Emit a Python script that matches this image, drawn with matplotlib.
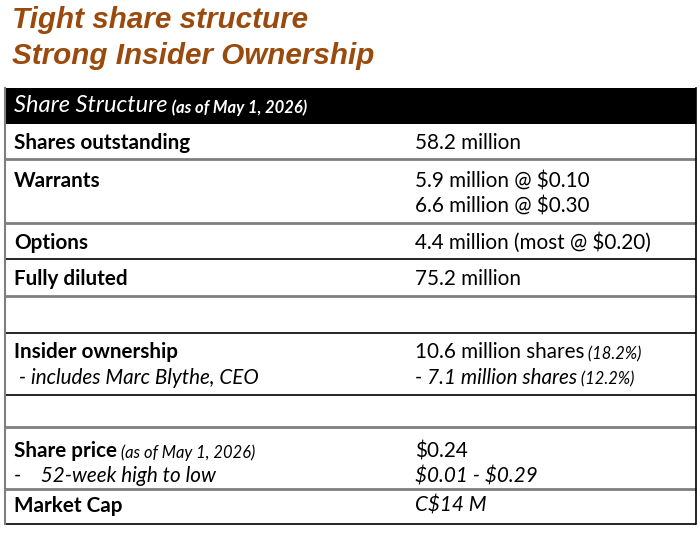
import matplotlib.pyplot as plt

# Data
title_lines = ["Tight share structure", "Strong Insider Ownership"]
header_main = "Share Structure"
header_note = " (as of May 1, 2026)"

row_labels = ["Shares outstanding", "Warrants", "Options", "Fully diluted", "",
              "Insider ownership", "", "Share price", "Market Cap"]
label_notes = ["", "", "", "", "", "", "", " (as of May 1, 2026)", ""]
label_second = ["", "", "", "", "", " - includes Marc Blythe, CEO", "",
                "-    52-week high to low", ""]

value_first = ["58.2 million", "5.9 million @ $0.10", "4.4 million (most @ $0.20)",
               "75.2 million", "", "10.6 million shares", "", "$0.24", "C$14 M"]
value_first_note = ["", "", "", "", "", " (18.2%)", "", "", ""]
value_first_italic = [False, False, False, False, False, False, False, False, True]
value_second = ["", "6.6 million @ $0.30", "", "", "", "- 7.1 million shares", "",
                "$0.01 - $0.29", ""]
value_second_note = ["", "", "", "", "", " (12.2%)", "", "", ""]
value_second_italic = [False, False, False, False, False, True, False, True, False]

# Layout (pixels)
W, H = 700, 533
band_top = 88
row_edges = [124, 159, 223, 259, 296, 333, 395, 427, 489, 524]
baselines = [149, 187, 249, 285, None, 358, None, 457, 512]
edge_gray = [True, True, False, True, False, False, True, True, False]
x_left, x_right = 5, 696
x_col1, x_col2 = 14, 415
line_gap = 25.5

FONT = "Lato"
fs = 14.9
title_color = "#9A4A0C"

fig = plt.figure(figsize=(W / 100, H / 100), dpi=100)
ax = fig.add_axes([0, 0, 1, 1])
ax.set_xlim(0, W)
ax.set_ylim(H, 0)
ax.axis("off")

# Title
for i, t in enumerate(title_lines):
    ax.text(12, 28 + i * 36, t, fontsize=21.3, fontweight="bold", fontstyle="italic",
            family="Liberation Sans", color=title_color, va="baseline", ha="left")

# Header band
ax.fill_between([x_left, x_right], band_top, row_edges[0], color="black", lw=0)
t = ax.text(x_col1, 112, header_main, fontsize=17, fontstyle="italic", family=FONT,
            color="white", va="baseline", ha="left")
ax.annotate(header_note, xy=(1, 0), xycoords=t, fontsize=12, fontstyle="italic",
            fontweight="bold", family=FONT, color="white", va="bottom", ha="left")


def put(x, y, s, note="", bold=False, italic=False):
    if not s:
        return
    txt = ax.text(x, y, s, fontsize=fs, family=FONT, va="baseline", ha="left",
                  fontweight="bold" if bold else "normal",
                  fontstyle="italic" if italic else "normal", color="black",
                  parse_math=False)
    if note:
        ax.annotate(note, xy=(1, 0), xycoords=txt, fontsize=fs * 0.8,
                    fontstyle="italic", family=FONT, va="bottom", ha="left",
                    color="black", parse_math=False)


for i in range(len(row_labels)):
    y1 = baselines[i]
    if y1 is None:
        continue
    put(x_col1, y1, row_labels[i], label_notes[i], bold=True)
    put(x_col1, y1 + line_gap, label_second[i], italic=True)
    put(x_col2, y1, value_first[i], value_first_note[i], italic=value_first_italic[i])
    put(x_col2, y1 + line_gap, value_second[i], value_second_note[i],
        italic=value_second_italic[i])

# Grid lines
for i, y in enumerate(row_edges[1:]):
    if edge_gray[i]:
        ax.plot([x_left, x_right], [y, y], color="#7f7f7f", lw=2, solid_capstyle="butt")
    else:
        ax.plot([x_left, x_right], [y, y], color="black", lw=1.2, solid_capstyle="butt")
ax.plot([x_left, x_left], [band_top, row_edges[-1]], color="#7f7f7f", lw=1.5)
ax.plot([x_right, x_right], [band_top, row_edges[-1]], color="black", lw=1.2)

fig.savefig("out.png", dpi=100)
